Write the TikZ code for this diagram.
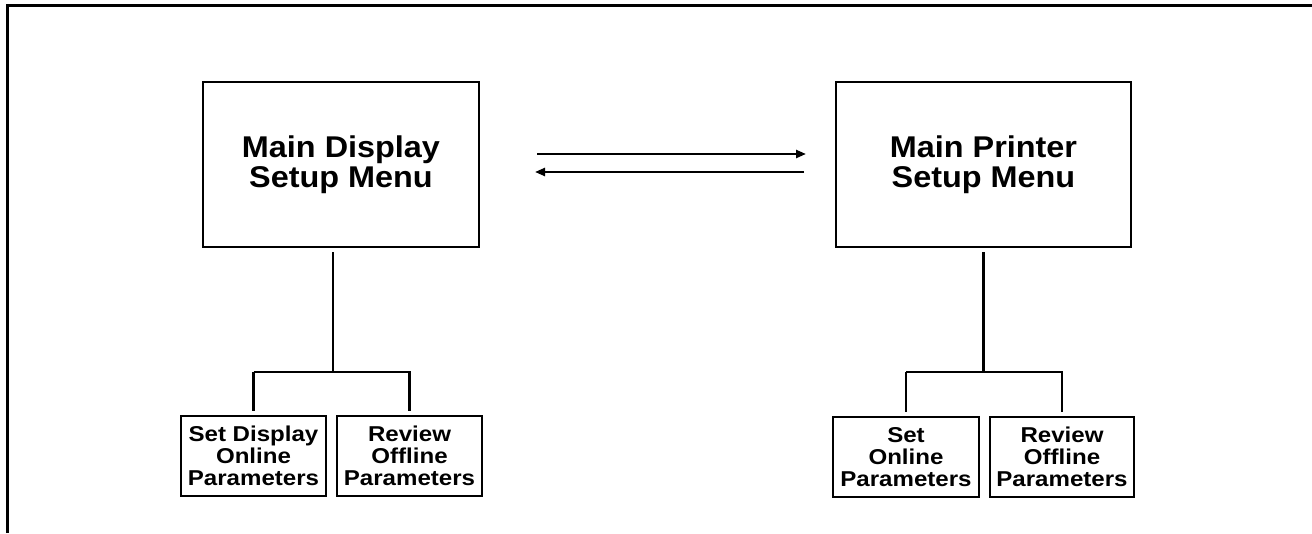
\documentclass[tikz,border=0pt]{standalone}
\usepackage{fontspec}
\setmainfont{Liberation Sans}
\newfontfamily\mainwide[FakeStretch=1.08]{Liberation Sans}
\newfontfamily\subwide[FakeStretch=1.12]{Liberation Sans}
\usetikzlibrary{arrows.meta}
\begin{document}
\begin{tikzpicture}[x=1pt,y=-1pt,
  line join=miter,
  mainbox/.style={draw,line width=2.8pt,minimum width=#1,minimum height=165pt,inner sep=0pt,
    font=\mainwide\fontsize{30}{30}\selectfont\bfseries,align=center},
  subbox/.style={draw,line width=2.8pt,minimum width=#1,minimum height=80pt,inner sep=0pt,
    font=\subwide\fontsize{21.5}{22}\selectfont\bfseries,align=center},
  wire/.style={line width=2.8pt},
  arr/.style={line width=2.3pt,-{Triangle[length=10pt,width=8pt]}}]
\useasboundingbox (0,0) rectangle (1312,533);
\draw[line width=3pt] (7,533) -- (7,5) -- (1312,5);

\node[mainbox=276pt] (mdisp) at (341,164.5) {Main Display\\Setup Menu};
\node[mainbox=295pt] (mprint) at (983.5,164.5) {Main Printer\\Setup Menu};

\node[subbox=145pt] (sd1) at (253.5,456) {Set Display\\Online\\Parameters};
\node[subbox=145pt] (sd2) at (409.5,456) {Review\\Offline\\Parameters};
\node[subbox=146pt] (sp1) at (906,457) {Set\\Online\\Parameters};
\node[subbox=144pt] (sp2) at (1062,457) {Review\\Offline\\Parameters};

\coordinate (lj) at (333,372);
\coordinate (rj) at (983.5,372);
\draw[wire,shorten <=4pt] (mdisp.south -| lj) -- (lj);
\draw[wire,shorten >=4pt] (sd1.north |- lj) -- (lj) -- (sd2.north |- lj) -- (sd2.north);
\draw[wire,shorten >=4pt] (sd1.north |- lj) -- (sd1.north);
\draw[wire,shorten <=4pt] (mprint.south) -- (rj);
\draw[wire,shorten >=4pt] (sp1.north |- rj) -- (rj) -- (sp2.north |- rj) -- (sp2.north);
\draw[wire,shorten >=4pt] (sp1.north |- rj) -- (sp1.north);

\coordinate (a1s) at (537,154);
\coordinate (a1e) at (806,154);
\coordinate (a2s) at (804,172);
\coordinate (a2e) at (535,172);
\draw[arr] (a1s) -- (a1e);
\draw[arr] (a2s) -- (a2e);
\end{tikzpicture}
\end{document}
